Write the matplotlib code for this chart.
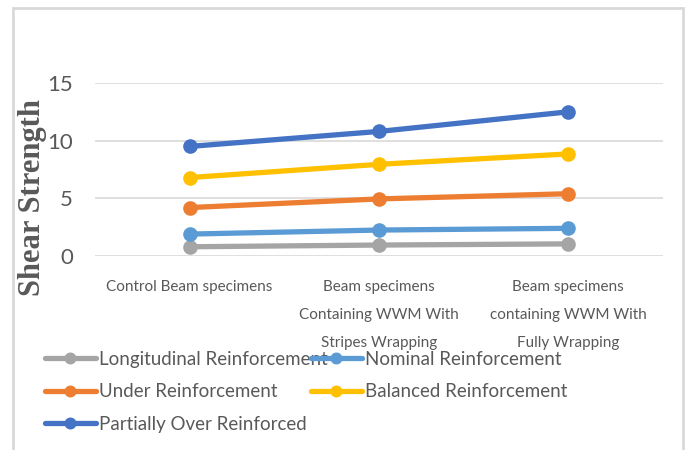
import matplotlib.pyplot as plt
from matplotlib.patches import Rectangle

categories = ["Control Beam specimens",
              "Beam specimens\nContaining WWM With\nStripes Wrapping",
              "Beam specimens\ncontaining WWM With\nFully Wrapping"]

series_names = ["Longitudinal Reinforcement", "Nominal Reinforcement",
                "Under Reinforcement", "Balanced Reinforcement",
                "Partially Over Reinforced"]
longitudinal = [0.8, 0.95, 1.05]
nominal = [1.9, 2.25, 2.4]
under = [4.2, 4.95, 5.4]
balanced = [6.8, 7.95, 8.85]
partially_over = [9.5, 10.8, 12.5]
values = [longitudinal, nominal, under, balanced, partially_over]
colors = ["#A5A5A5", "#5B9BD5", "#ED7D31", "#FFC000", "#4472C4"]

yticks = [0, 5, 10, 15]

font = ["Lato", "DejaVu Sans"]
txt_color = "#595959"

fig = plt.figure(figsize=(6.88, 4.5), dpi=100)
W, H = 688, 450
ax = fig.add_axes([95 / W, 1 - 256 / H, (663 - 95) / W, (256 - 83) / H])

x = list(range(len(categories)))
handles = []
for name, vals, c in zip(series_names, values, colors):
    h, = ax.plot(x, vals, color=c, lw=3.8, marker="o", ms=9.5,
                 solid_capstyle="round", label=name, zorder=3)
    handles.append(h)

ax.set_xlim(-0.5, 2.5)
ax.set_ylim(0, 15)
ax.set_yticks(yticks)
ax.set_xticks(x)
ax.set_xticklabels(categories, fontsize=11, family=font, color=txt_color,
                   linespacing=2.3, va="top")
ax.tick_params(axis="x", length=0, pad=17)
ax.tick_params(axis="y", length=0, pad=16, labelsize=16, labelcolor=txt_color)
for lbl in ax.get_yticklabels():
    lbl.set_family(font)
ax.yaxis.grid(True, color="#D9D9D9", lw=1.2)
ax.set_axisbelow(True)
for s in ax.spines.values():
    s.set_visible(False)

fig.text(33 / W, 1 - 197 / H, "Shear Strength", rotation=90, ha="center",
         va="center", family="Liberation Serif", fontweight="bold",
         fontsize=22, color=txt_color)

# outer chart border
fig.patches.append(Rectangle((13 / W, -0.1), (683 - 13) / W, 1.1 - 8 / H,
                             transform=fig.transFigure, fill=False,
                             edgecolor="#D9D9D9", lw=2))

leg_kw = dict(frameon=False, handlelength=2.7, handletextpad=0.2,
              labelspacing=0.82, borderaxespad=0, borderpad=0, markerscale=0.8,
              prop={"family": font, "size": 13.5}, labelcolor=txt_color)
col1 = [handles[0], handles[2], handles[4]]
col2 = [handles[1], handles[3]]
fig.legend(col1, [h.get_label() for h in col1], loc="upper left",
           bbox_to_anchor=(45 / W, 1 - 351 / H), **leg_kw)
fig.legend(col2, [h.get_label() for h in col2], loc="upper left",
           bbox_to_anchor=(311 / W, 1 - 351 / H), **leg_kw)

fig.savefig("out.png", dpi=100)
